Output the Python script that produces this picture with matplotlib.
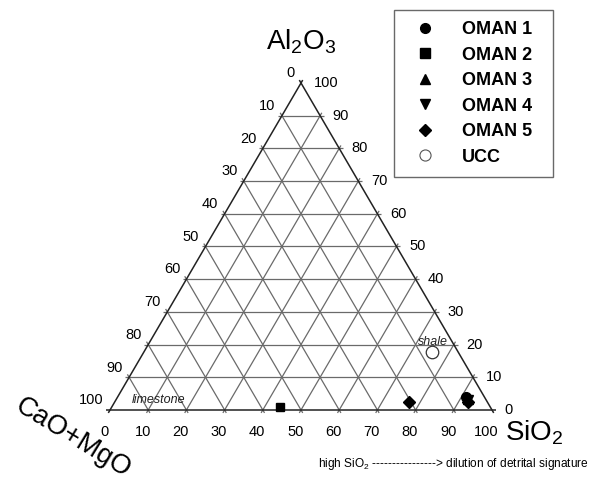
import matplotlib
matplotlib.use("Agg")
import matplotlib.pyplot as plt
from matplotlib.lines import Line2D

plt.rcParams["font.family"] = ["Liberation Sans", "DejaVu Sans"]
plt.rcParams["mathtext.fontset"] = "custom"
plt.rcParams["mathtext.rm"] = "Liberation Sans"
plt.rcParams["mathtext.it"] = "Liberation Sans:italic"
plt.rcParams["mathtext.bf"] = "Liberation Sans:bold"

# Sample compositions (wt%): SiO2, Al2O3, CaO+MgO
series_names = ["OMAN 1", "OMAN 2", "OMAN 3", "OMAN 4", "OMAN 5", "UCC"]
sio2 = [[91.2], [44.0], [92.0], [92.3], [77.1, 92.5], [75.5]]
al2o3 = [[4.0], [0.9], [3.5], [3.0], [2.4, 2.4], [17.6]]
camgo = [[4.8], [55.1], [4.5], [4.7], [20.5, 5.1], [6.9]]
markers = ["o", "s", "^", "v", "D", "o"]
msizes = [7, 6, 6.5, 6.5, 6, 9]

grid_values = [10, 20, 30, 40, 50, 60, 70, 80, 90]
tick_labels = [0, 10, 20, 30, 40, 50, 60, 70, 80, 90, 100]


def tern(si, al, ca):
    t = si + al + ca
    si, al = 100.0 * si / t, 100.0 * al / t
    return si + al / 2.0, al


fig = plt.figure(figsize=(6.0, 4.82), dpi=100)
ax = fig.add_axes([0, 0, 1, 1])
ax.set_xlim(-28.80, 128.27)
ax.set_ylim(-22.02, 125.38)
ax.axis("off")

ext = 1.0  # small tick overhang past the frame


def seg(p, q, **kw):
    (x0, y0), (x1, y1) = p, q
    dx, dy = x1 - x0, y1 - y0
    n = (dx ** 2 + dy ** 2) ** 0.5
    ux, uy = dx / n, dy / n
    ax.plot([x0 - ux * ext, x1 + ux * ext], [y0 - uy * ext, y1 + uy * ext],
            clip_on=False, solid_capstyle="butt", **kw)


gkw = dict(color="#6a6a6a", lw=0.9, zorder=1)
for v in grid_values:
    # constant Al2O3
    seg(tern(0, v, 100 - v), tern(100 - v, v, 0), **gkw)
    # constant SiO2
    seg(tern(v, 0, 100 - v), tern(v, 100 - v, 0), **gkw)
    # constant CaO+MgO
    seg(tern(0, 100 - v, v), tern(100 - v, 0, v), **gkw)

ekw = dict(color="#222222", lw=1.1, zorder=2)
A = tern(0, 0, 100)
B = tern(100, 0, 0)
C = tern(0, 100, 0)
seg(A, B, **ekw)
seg(B, C, **ekw)
seg(C, A, **ekw)

tfs = 10.5
for v in tick_labels:
    ax.annotate(str(v), tern(v, 0, 100 - v), xytext=(-4, -16),
                textcoords="offset points", ha="center", va="center", fontsize=tfs)
    ax.annotate(str(v), tern(100 - v, v, 0), xytext=(9, 0),
                textcoords="offset points", ha="left", va="center", fontsize=tfs)
    ax.annotate(str(v), tern(0, 100 - v, v), xytext=(-4.5, 7),
                textcoords="offset points", ha="right", va="center", fontsize=tfs)

# data
for name, s, a, c, m, ms in zip(series_names, sio2, al2o3, camgo, markers, msizes):
    pts = [tern(si, al, ca) for si, al, ca in zip(s, a, c)]
    xs = [p[0] for p in pts]
    ys = [p[1] for p in pts]
    if name == "UCC":
        ax.plot(xs, ys, ls="none", marker=m, ms=ms, mfc="white", mec="#333333",
                mew=0.9, zorder=5, clip_on=False)
    else:
        ax.plot(xs, ys, ls="none", marker=m, ms=ms, color="black", zorder=4,
                clip_on=False)

ax.text(84.6, 20.8, "shale", style="italic", fontsize=9, ha="center", va="center",
        color="#222222", zorder=6)
ax.text(12.6, 3.1, "limestone", style="italic", fontsize=9, ha="center", va="center",
        color="#222222", zorder=6)

# apex labels
ax.text(50.0, 112.5, r"Al$_\mathrm{2}$O$_\mathrm{3}$", fontsize=20, ha="center",
        va="center")
ax.text(111.0, -7.0, r"SiO$_\mathrm{2}$", fontsize=20, ha="center", va="center")
ax.text(-9.6, -8.6, "CaO+MgO", fontsize=19.5, ha="center", va="center", rotation=-31.5)

ax.text(54.5, -16.6,
        r"high SiO$_\mathrm{2}$ ----------------> dilution of detrital signature",
        fontsize=8.6, ha="left", va="center")

handles = []
for name, m in zip(series_names, markers):
    if name == "UCC":
        h = Line2D([], [], ls="none", marker=m, ms=8, mfc="white", mec="#555555", mew=0.8)
    else:
        h = Line2D([], [], ls="none", marker=m, ms=7 if m == "o" else 6.5, color="black")
    handles.append(h)
leg = fig.legend(handles, series_names, loc="upper left", mode="expand",
                 bbox_to_anchor=(394 / 600, 1 - 175 / 482, 159 / 600, 165 / 482),
                 prop={"weight": "bold", "size": 13}, frameon=True, fancybox=False,
                 borderpad=0.62, labelspacing=0.47, handlelength=2.2,
                 handletextpad=0.92, borderaxespad=0)
leg.get_frame().set_edgecolor("#444444")
leg.get_frame().set_linewidth(1.0)

fig.savefig("out.png", dpi=100)
